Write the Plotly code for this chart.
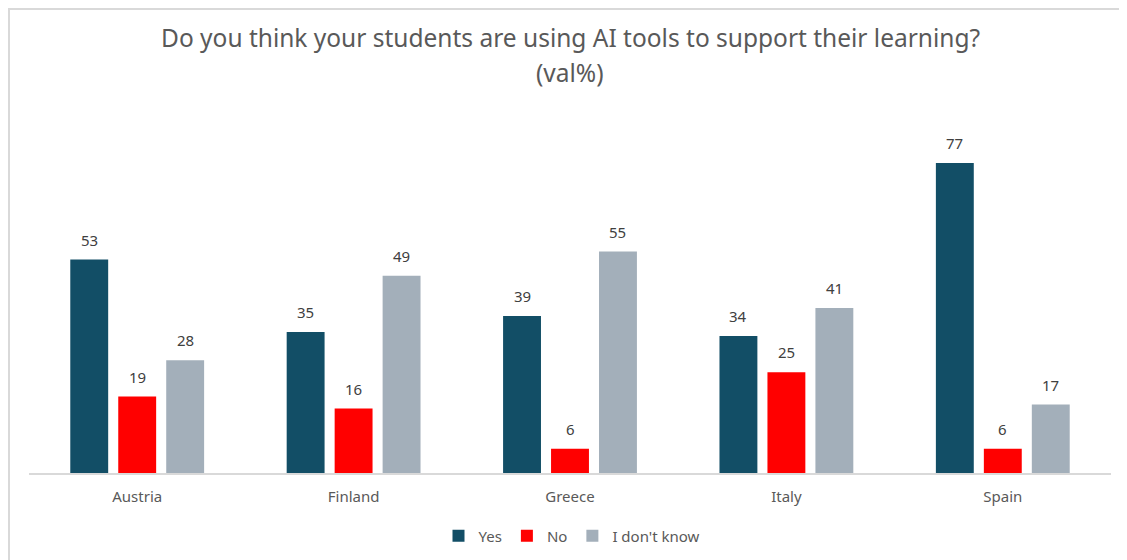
import plotly.graph_objects as go

countries = ["Austria", "Finland", "Greece", "Italy", "Spain"]
yes_vals = [53, 35, 39, 34, 77]
no_vals = [19, 16, 6, 25, 6]
idk_vals = [28, 49, 55, 41, 17]
series_names = ["Yes", "No", "I don't know"]
series_colors = ["#124E66", "#FF0000", "#A3AFBA"]
title_line1 = "Do you think your students are using AI tools to support their learning?"
title_line2 = "(val%)"

# the page body adds an 8px offset, so figure coordinates = screen - 8
OFF = 8
W, H = 1127, 560
ml, mr = 29 - OFF, W - (1111 - OFF)
mt, mb = 100 - OFF, H - (473 - OFF)
plot_w = W - ml - mr
plot_h = H - mt - mb

fig = go.Figure()
all_vals = [yes_vals, no_vals, idk_vals]
for name, vals, col in zip(series_names, all_vals, series_colors):
    fig.add_trace(go.Bar(x=countries, y=vals, name=name, marker=dict(color=col, line=dict(width=0))))

font_family = "Noto Sans, Open Sans, sans-serif"

def py(pix):
    return (mt + plot_h - (pix - OFF)) / plot_h

def px(pix):
    return ((pix - OFF) - ml) / plot_w

# value labels
slot = plot_w / len(countries) * (1 - 0.335) / 3
for i, vals in enumerate(all_vals):
    for c, v in zip(countries, vals):
        fig.add_annotation(x=c, y=v, xref="x", yref="y", text=str(v), showarrow=False,
                           xshift=(i - 1) * slot, yshift=20,
                           font=dict(family=font_family, size=15, color="#404040"))

fig.add_annotation(x=px(570), y=py(38), xref="paper", yref="paper",
                   text=title_line1, showarrow=False,
                   font=dict(family=font_family, size=24.5, color="#595959"), yanchor="middle")
fig.add_annotation(x=px(570), y=py(73), xref="paper", yref="paper",
                   text=title_line2, showarrow=False,
                   font=dict(family=font_family, size=24.5, color="#595959"), yanchor="middle")

# border (clipped at right/bottom as in reference)
fig.add_shape(type="rect", xref="paper", yref="paper",
              x0=px(OFF + 1), x1=px(W + 40),
              y0=py(H + 40), y1=py(OFF + 1),
              line=dict(color="#D9D9D9", width=2), fillcolor="rgba(0,0,0,0)", layer="below")

fig.update_layout(
    width=W, height=H,
    margin=dict(l=ml, r=mr, t=mt, b=mb, autoexpand=False),
    paper_bgcolor="white", plot_bgcolor="white",
    barmode="group", bargap=0.335, bargroupgap=0.21,
    showlegend=True,
    legend=dict(orientation="h", x=px(572), xanchor="center", y=py(536), yanchor="middle",
                font=dict(family=font_family, size=15, color="#595959"), itemwidth=30,
                traceorder="normal"),
    xaxis=dict(showline=True, linecolor="#D9D9D9", linewidth=2, ticks="", showgrid=False,
               tickfont=dict(family=font_family, size=15, color="#595959"), ticklabelstandoff=9),
    yaxis=dict(range=[0, plot_h / (310 / 77)], visible=False, showgrid=False, zeroline=False),
)

fig.write_html("out.html")
